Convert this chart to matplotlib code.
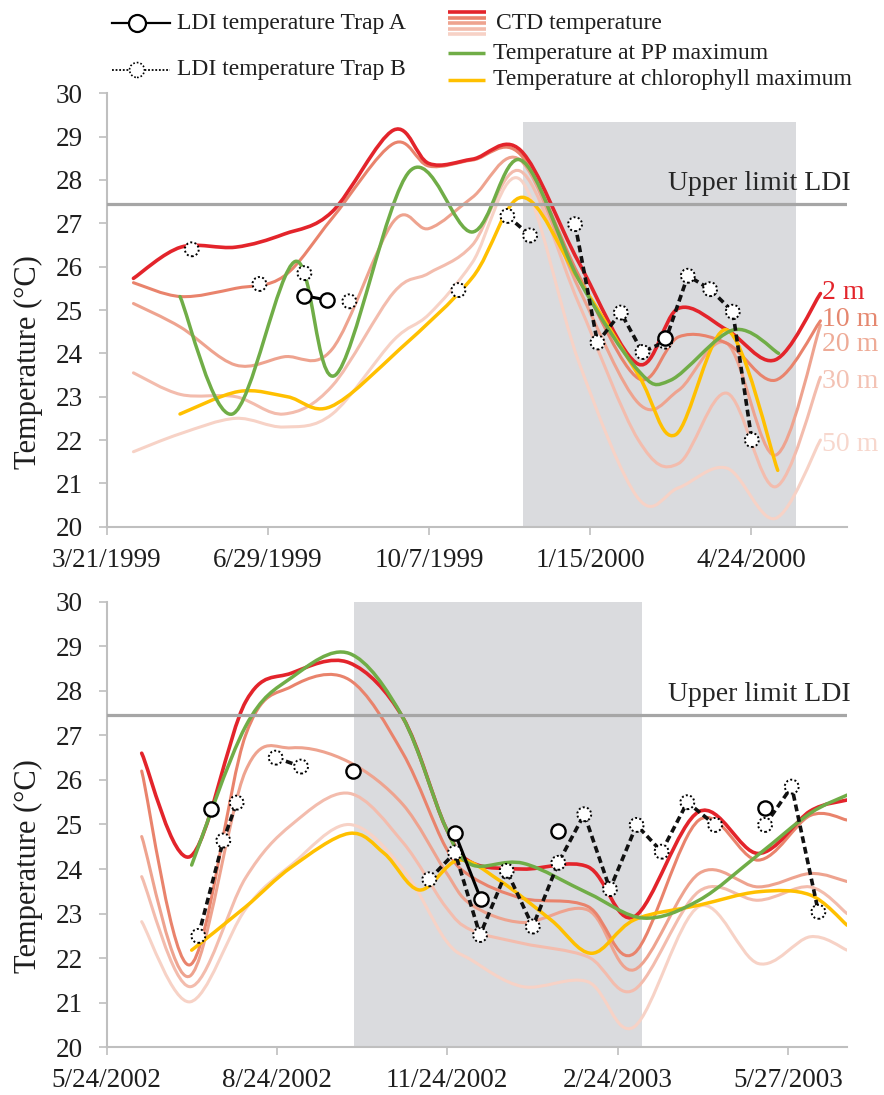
import numpy as np
import matplotlib
matplotlib.use("Agg")
import matplotlib.pyplot as plt
from matplotlib.path import Path
from matplotlib.patches import PathPatch

plt.rcParams['font.family'] = ['Liberation Serif', 'DejaVu Serif']

# ---------------- 1999-2000 (days after 3/21/1999) ----------------
top_days = [16.6, 46, 80, 110, 140, 178, 200, 227, 257, 293, 330, 355, 385, 415, 443]
top_2m = [25.73, 26.45, 26.45, 26.75, 27.27, 29.15, 28.38, 28.48, 28.68, 26.1, 23.75, 25.04, 24.54, 23.85, 25.38]
top_10m = [25.63, 25.31, 25.5, 25.78, 27.12, 28.84, 28.32, 28.46, 28.58, 25.8, 23.42, 24.38, 24.23, 23.38, 24.75]
top_20m = [25.15, 24.6, 23.73, 23.92, 24.1, 27.04, 26.88, 27.6, 28.45, 25.5, 22.85, 23.15, 24.23, 21.65, 24.65]
top_30m = [23.55, 23.05, 23.0, 22.6, 23.25, 25.4, 25.85, 26.5, 28.2, 25.15, 22.0, 21.46, 23.08, 20.92, 23.45]
top_50m = [21.73, 22.15, 22.5, 22.3, 22.6, 24.3, 24.9, 26.1, 28.0, 23.8, 20.65, 20.9, 21.35, 20.19, 22.0]

top_pp_days = [45.5, 78, 117, 142, 188, 227, 257, 293, 330, 350, 389, 417]
top_pp = [25.31, 22.6, 26.12, 23.5, 28.2, 26.8, 28.46, 25.7, 23.6, 23.38, 24.54, 24.0]

top_chl_days = [45.5, 82, 112, 139, 182, 227, 258, 293, 330, 353, 385, 416.5]
top_chl = [22.6, 23.12, 23.0, 22.77, 24.1, 25.75, 27.6, 25.7, 23.5, 22.12, 24.54, 21.3]

top_trapA_days = [122.7, 136.6, np.nan, 346.6]
top_trapA = [25.33, 25.23, np.nan, 24.35]
top_trapB_days = [52.8, np.nan, 94.8, np.nan, 122.7, np.nan, 150.6, np.nan, 218.3, np.nan,
                  248.7, 262.8, np.nan, 290.7, 304.6, 319.1, 332.5, 346.6, 360.7, 374.5, 388.6, 400.4]
top_trapB = [26.4, np.nan, 25.6, np.nan, 25.85, np.nan, 25.2, np.nan, 25.46, np.nan,
             27.17, 26.72, np.nan, 26.98, 24.25, 24.94, 24.03, 24.27, 25.79, 25.48, 24.96, 22.0]

top_ticks = [0, 100, 200, 300, 400]
top_ticklabels = ['3/21/1999', '6/29/1999', '10/7/1999', '1/15/2000', '4/24/2000']
top_xmax = 459.3
top_shade = (258.6, 428.0, 29.33)

# ---------------- 2002-2003 (days after 5/24/2002) ----------------
bot_days = [18.9, 45, 75, 100, 131, 160, 183, 197, 225, 260, 285, 320, 352, 380, 400]
bot_2m = [26.6, 24.28, 27.75, 28.4, 28.63, 27.4, 24.95, 24.15, 24.0, 24.05, 22.93, 25.29, 24.35, 25.3, 25.55]
bot_10m = [26.2, 21.85, 27.0, 28.1, 28.25, 26.6, 24.5, 23.83, 23.34, 23.16, 22.11, 25.1, 24.2, 25.2, 25.1]
bot_20m = [24.73, 21.6, 26.2, 26.72, 26.4, 25.45, 23.95, 23.2, 22.8, 23.08, 21.74, 23.9, 23.6, 23.9, 23.72]
bot_30m = [23.83, 21.36, 23.8, 25.0, 25.7, 24.6, 23.16, 22.63, 22.33, 22.03, 21.29, 23.5, 23.3, 23.6, 23.0]
bot_50m = [22.82, 21.02, 23.1, 24.1, 25.0, 24.0, 22.41, 21.96, 21.36, 21.47, 20.46, 23.16, 21.88, 22.48, 22.18]

bot_pp_days = [45.9, 75, 100, 131, 160, 183, 197, 225, 260, 290, 320, 352, 380, 400]
bot_pp = [24.09, 27.2, 28.3, 28.84, 27.4, 24.95, 24.1, 24.13, 23.46, 22.9, 23.3, 24.32, 25.25, 25.66]

bot_chl_days = [45.9, 75, 100, 131, 150, 169, 190, 212, 240, 262, 285, 320, 352, 380, 400]
bot_chl = [22.18, 23.15, 24.05, 24.8, 24.35, 23.53, 24.2, 23.75, 22.86, 22.11, 22.86, 23.19, 23.49, 23.42, 22.74]

bot_trapA_days = [56.2, np.nan, 133.3, np.nan, 188.2, 202.2, np.nan, 244.0, np.nan, 355.7]
bot_trapA = [25.35, np.nan, 26.19, np.nan, 24.8, 23.32, np.nan, 24.86, np.nan, 25.36]
bot_trapB_days = [49.5, 63.0, 70.2, np.nan, 91.3, 105.0, np.nan,
                  174.3, 188.2, 201.7, 216.1, 230.2, 244.0, 258.0, 271.9, 286.3, 299.8, 313.7, 328.7, np.nan,
                  355.7, 370.1, 384.5]
bot_trapB = [22.5, 24.64, 25.49, np.nan, 26.5, 26.3, np.nan,
             23.77, 24.37, 22.52, 23.96, 22.71, 24.14, 25.23, 23.55, 24.99, 24.39, 25.5, 24.99, np.nan,
             24.99, 25.85, 23.04]

bot_ticks = [0, 92, 184, 276, 368]
bot_ticklabels = ['5/24/2002', '8/24/2002', '11/24/2002', '2/24/2003', '5/27/2003']
bot_xmax = 399.8
bot_shade = (133.6, 289.0, 30.0)

upper_limit = 27.45
depth_labels = ['2 m', '10 m', '20 m', '30 m', '50 m']
depth_label_y = [25.4, 24.77, 24.2, 23.34, 21.89]

ctd_colors = ['#e3242b', '#e9836c', '#eea38f', '#f3bcad', '#f7d2c6']
label_colors = ['#e3242b', '#e5876f', '#eeab97', '#f3c2b4', '#f7d7cd']
green = '#70ad47'
yellow = '#ffc000'
shade = '#dadbde'
gray_line = '#a6a6a6'
spine_gray = '#bfbfbf'


def smooth_path(x, y):
    # excel-style smoothed line: Catmull-Rom segments as cubic beziers
    pts = np.column_stack([np.asarray(x, float), np.asarray(y, float)])
    n = len(pts)
    verts = [pts[0]]
    codes = [Path.MOVETO]
    for i in range(n - 1):
        p0 = pts[i - 1] if i > 0 else pts[i]
        p1 = pts[i]
        p2 = pts[i + 1]
        p3 = pts[i + 2] if i + 2 < n else pts[i + 1]
        verts += [p1 + (p2 - p0) / 6, p2 - (p3 - p1) / 6, p2]
        codes += [Path.CURVE4] * 3
    return Path(verts, codes)


def add_curve(ax, x, y, color, lw, z):
    ax.add_patch(PathPatch(smooth_path(x, y), fill=False, edgecolor=color, lw=lw,
                           capstyle='round', joinstyle='round', zorder=z))


def draw_panel(ax, days, ctd, pp_days, pp, chl_days, chl, a_days, a_vals, b_days, b_vals,
               ticks, ticklabels, xmax, shade_span):
    ax.axvspan(shade_span[0], shade_span[1], ymin=0, ymax=(shade_span[2] - 20) / 10,
               color=shade, lw=0, zorder=0)
    for k in range(4, -1, -1):
        add_curve(ax, days, ctd[k], ctd_colors[k], 2.6 if k == 0 else 2.2, 2 + (4 - k))
    add_curve(ax, pp_days, pp, green, 2.5, 8)
    add_curve(ax, chl_days, chl, yellow, 2.5, 7)
    ax.axhline(upper_limit, color=gray_line, lw=2.3, zorder=9)

    ax.plot(b_days, b_vals, color='#111111', lw=2.6, linestyle=(0, (1.9, 1.1)), zorder=10)
    ax.scatter(b_days, b_vals, s=100, facecolor='white', edgecolor='black', linewidths=1.4,
               linestyle=(0, (1, 1.2)), zorder=11)
    ax.plot(a_days, a_vals, color='black', lw=2.2, zorder=12)
    ax.scatter(a_days, a_vals, s=105, facecolor='white', edgecolor='black', linewidths=1.7, zorder=13)

    ax.set_xlim(0, xmax)
    ax.set_ylim(20, 30)
    ax.set_yticks(range(20, 31))
    ax.set_xticks(ticks)
    ax.set_xticklabels(ticklabels)
    for s in ['top', 'right']:
        ax.spines[s].set_visible(False)
    for s in ['left', 'bottom']:
        ax.spines[s].set_color(spine_gray)
        ax.spines[s].set_linewidth(1.5)
    ax.tick_params(axis='y', length=6, width=1.2, color=spine_gray, pad=11, labelsize=19.5,
                   labelcolor='#1e1e1e')
    ax.tick_params(axis='x', length=6, width=1.2, color=spine_gray, pad=9, labelsize=19.5,
                   labelcolor='#1e1e1e')
    ax.set_facecolor('none')
    ax.text(1.005, 27.77, 'Upper limit LDI', transform=ax.get_yaxis_transform(), ha='right',
            va='baseline', fontsize=20, color='#262626', zorder=14)


fig = plt.figure(figsize=(8.84, 10.95), dpi=100)
W, H = 884, 1095
ax1 = fig.add_axes([106.7 / W, 1 - 526.7 / H, 740 / W, 433.4 / H])
ax2 = fig.add_axes([106.7 / W, 1 - 1047.3 / H, 740 / W, 445.6 / H])

draw_panel(ax1, top_days, [top_2m, top_10m, top_20m, top_30m, top_50m],
           top_pp_days, top_pp, top_chl_days, top_chl,
           top_trapA_days, top_trapA, top_trapB_days, top_trapB,
           top_ticks, top_ticklabels, top_xmax, top_shade)
draw_panel(ax2, bot_days, [bot_2m, bot_10m, bot_20m, bot_30m, bot_50m],
           bot_pp_days, bot_pp, bot_chl_days, bot_chl,
           bot_trapA_days, bot_trapA, bot_trapB_days, bot_trapB,
           bot_ticks, bot_ticklabels, bot_xmax, bot_shade)

for lab, yv, c in zip(depth_labels, depth_label_y, label_colors):
    ax1.text(444, yv, lab, color=c, fontsize=20, ha='left', va='center', clip_on=False)

fig.text(28 / W, 1 - 362 / H, 'Temperature (°C)', rotation=90, ha='center', va='center',
         fontsize=22, color='#1e1e1e')
fig.text(28 / W, 1 - 866 / H, 'Temperature (°C)', rotation=90, ha='center', va='center',
         fontsize=22, color='#1e1e1e')

# legend drawn in pixel coordinates on an overlay
leg = fig.add_axes([0, 0, 1, 1])
leg.set_xlim(0, W)
leg.set_ylim(H, 0)
leg.axis('off')

leg.plot([112, 170], [23, 23], color='black', lw=1.6)
leg.scatter([137], [23], s=150, facecolor='white', edgecolor='black', linewidths=1.6, zorder=3)
leg.text(177, 23, 'LDI temperature Trap A', fontsize=17, va='center', ha='left', color='#1e1e1e')
leg.plot([112, 170], [70, 70], color='black', lw=1.3, linestyle=(0, (1, 1)))
leg.scatter([137], [70], s=115, facecolor='white', edgecolor='black', linewidths=1.2,
            linestyle=(0, (1, 1.2)), zorder=3)
leg.text(177, 70, 'LDI temperature Trap B', fontsize=17, va='center', ha='left', color='#1e1e1e')

for yy, c in zip([12, 17.5, 23, 28.5, 34], ctd_colors):
    leg.plot([448, 486], [yy, yy], color=c, lw=2.6, solid_capstyle='butt')
leg.text(496, 23, 'CTD temperature', fontsize=17, va='center', ha='left', color='#1e1e1e')
leg.plot([448, 485], [53, 53], color=green, lw=2.5, solid_capstyle='butt')
leg.text(493, 53, 'Temperature at PP maximum', fontsize=17, va='center', ha='left', color='#1e1e1e')
leg.plot([448, 485], [80, 80], color=yellow, lw=2.5, solid_capstyle='butt')
leg.text(493, 80, 'Temperature at chlorophyll maximum', fontsize=17, va='center', ha='left',
         color='#1e1e1e')

fig.savefig('out.png', dpi=100)
